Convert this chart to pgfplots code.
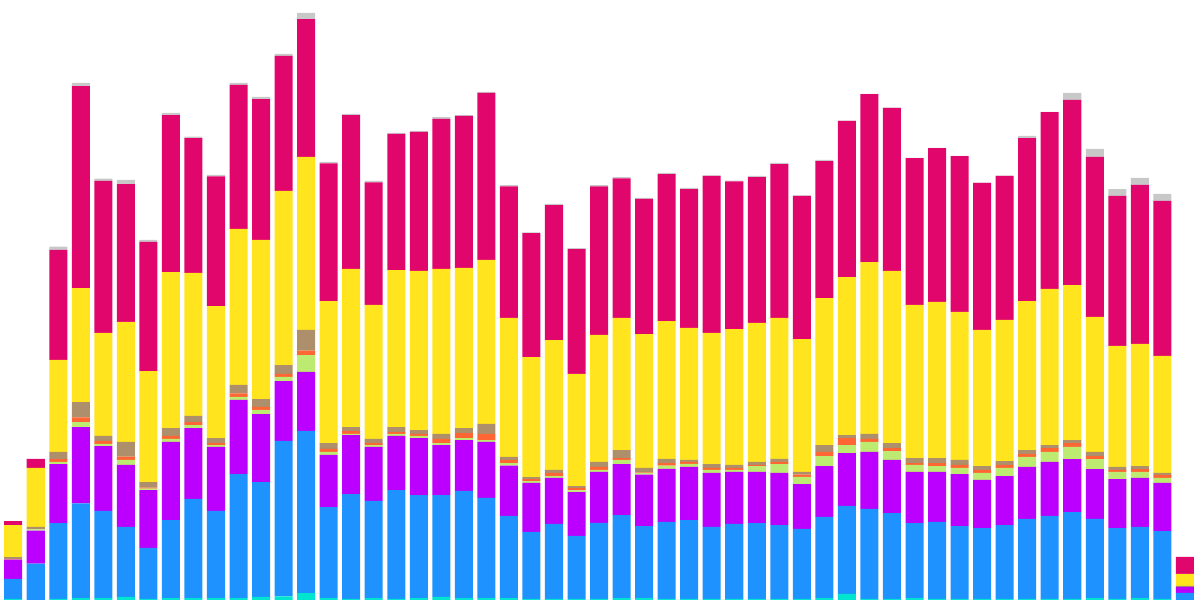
\documentclass[border=0pt]{standalone}
\usepackage{pgfplots}
\usepackage{pgfplotstable}
\pgfplotsset{compat=1.18}
\definecolor{cC}{HTML}{00E5CF}
\definecolor{cB}{HTML}{1E93FF}
\definecolor{cP}{HTML}{BB00FF}
\definecolor{cG}{HTML}{BDEB72}
\definecolor{cO}{HTML}{FF6633}
\definecolor{cT}{HTML}{AD906B}
\definecolor{cY}{HTML}{FFE41E}
\definecolor{cR}{HTML}{E1066C}
\definecolor{cGr}{HTML}{C8C8C8}
\pgfplotstableread{
x c b p g o t y r gr
0 1.0 20.0 19.3 0 0.3 2.3 32.0 4.0 0
1 0 36.3 33.0 1.4 0 2.3 59.0 9.0 0
2 1.1 75.7 59.0 2.3 2.7 7.2 92.0 110.2 3.1
3 1.8 94.9 76.2 5.0 4.6 15.3 114.0 202.1 3.1
4 1.8 87.3 64.7 2.3 3.0 5.0 102.9 152.0 2.3
5 3.0 70.0 62.0 5.0 3.4 14.6 120.1 137.8 4.2
6 1.1 50.9 57.8 1.5 1.1 5.4 111.0 129.3 1.9
7 1.8 78.1 78.1 3.0 3.1 7.7 156.1 156.9 2.3
8 1.8 99.2 70.8 3.0 3.1 6.1 143.1 134.7 1.6
9 1.8 87.3 63.9 1.9 1.9 5.0 132.0 129.8 1.5
10 1.8 124.0 74.3 3.0 3.5 8.4 156.1 143.9 2.0
11 3.0 114.8 68.1 4.2 3.1 7.6 159.2 140.9 2.3
12 3.7 155.4 59.7 4.2 3.1 8.8 174.1 135.1 1.9
13 6.8 162.3 58.9 16.9 4.5 20.7 173.0 137.8 6.1
14 1.8 91.1 52.1 3.0 3.1 5.7 142.0 137.8 1.5
15 1.1 104.8 59.0 1.1 3.1 3.8 158.1 153.8 1.2
16 1.8 97.2 54.0 1.9 1.9 4.2 134.0 122.5 1.5
17 1.1 108.7 54.3 1.9 1.9 5.0 156.9 136.3 1.1
18 1.8 103.0 57.0 2.3 1.9 3.8 159.2 139.0 1.1
19 3.0 101.8 50.1 1.9 4.2 5.0 165.0 150.0 1.9
20 1.8 107.2 50.9 1.9 5.0 5.0 160.3 151.9 0.8
21 1.8 100.3 55.9 1.9 6.1 10.0 164.1 166.9 1.2
22 1.8 82.3 50.2 2.6 3.1 3.1 138.9 131.6 1.2
23 1.1 66.9 49.0 1.9 2.0 1.9 120.1 124.0 0.8
24 1.1 75.0 45.9 1.9 3.1 3.0 129.8 135.1 1.1
25 1.1 63.1 43.6 1.9 2.3 1.9 112.1 124.8 1.1
26 1.1 76.1 50.9 1.9 3.1 5.0 127.0 148.5 1.2
27 1.8 83.1 50.9 4.2 1.9 8.0 132.1 139.7 1.1
28 1.8 72.0 51.6 1.6 0.7 4.3 133.9 135.1 1.1
29 1.1 76.9 53.2 3.1 2.6 4.2 137.8 147.0 1.1
30 1.1 78.8 53.2 3.1 1.9 1.9 132.0 138.9 1.2
31 1.1 71.9 54.0 3.0 2.0 3.8 131.2 157.0 0.5
32 1.1 75.0 52.0 1.9 2.0 3.0 135.9 147.7 0.8
33 1.1 75.7 51.3 5.8 1.1 3.1 138.9 145.8 1.2
34 1.1 73.8 52.1 8.8 2.3 3.0 140.9 153.8 1.2
35 1.1 70.0 44.8 7.3 2.2 2.7 132.8 143.2 0.4
36 1.8 81.2 50.9 9.9 4.2 6.9 147.0 137.0 1.1
37 6.0 88.1 52.8 8.0 6.9 3.1 158.0 156.2 0.3
38 1.1 89.9 57.0 10.0 3.0 5.0 171.8 168.1 0.3
39 1.1 85.7 53.2 8.8 3.1 4.9 172.3 163.0 0.3
40 1.8 75.0 51.3 6.9 1.9 5.0 153.1 146.9 0.3
41 1.1 76.9 50.1 5.8 3.0 5.0 156.1 153.9 0.3
42 1.1 72.7 52.0 6.2 3.0 5.0 148.1 155.8 0.3
43 1.1 70.8 48.2 6.9 3.0 3.9 136.2 147.0 0.3
44 1.1 73.8 49.0 8.1 3.0 3.8 141.3 143.9 0.3
45 1.1 80.0 52.0 10.0 3.0 3.8 148.9 163.0 2.3
46 1.1 83.0 54.0 9.9 3.9 3.0 156.2 176.8 0.3
47 1.1 86.8 52.9 12.2 3.8 3.1 155.0 185.2 6.9
48 1.8 79.3 49.7 10.0 3.0 4.2 135.1 160.0 8.0
49 1.1 70.8 49.0 7.2 1.9 3.1 120.9 150.1 6.8
50 1.8 71.2 49.0 6.1 2.7 3.1 122.1 159.2 6.8
51 1.1 67.7 48.2 5.0 3.1 1.9 117.1 155.0 6.9
52 0 7.0 6.0 0 0 1.0 12.0 17.0 0
}\data
\begin{document}
\begin{tikzpicture}
\begin{axis}[
  width=600pt, height=300pt, scale only axis, hide axis,
  xmin=-0.586, xmax=52.67, ymin=0, ymax=600,
  ybar stacked, bar width=0.8, clip=false,
]
\path (rel axis cs:0,0) rectangle (rel axis cs:1,1);
\addplot[fill=cC, draw=none] table[x=x,y=c]{\data};
\addplot[fill=cB, draw=none] table[x=x,y=b]{\data};
\addplot[fill=cP, draw=none] table[x=x,y=p]{\data};
\addplot[fill=cG, draw=none] table[x=x,y=g]{\data};
\addplot[fill=cO, draw=none] table[x=x,y=o]{\data};
\addplot[fill=cT, draw=none] table[x=x,y=t]{\data};
\addplot[fill=cY, draw=none] table[x=x,y=y]{\data};
\addplot[fill=cR, draw=none] table[x=x,y=r]{\data};
\addplot[fill=cGr, draw=none] table[x=x,y=gr]{\data};
\end{axis}
\end{tikzpicture}
\end{document}
